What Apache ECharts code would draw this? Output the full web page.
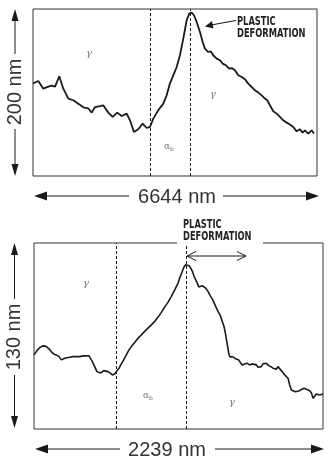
<!DOCTYPE html>
<html><head><meta charset="utf-8">
<script src="https://cdn.jsdelivr.net/npm/echarts@6/dist/echarts.min.js"></script>
<style>html,body{margin:0;padding:0;background:#fff}#c{width:332px;height:465px}</style>
</head><body><div id="c"></div>
<script>
// ---- Top profile (x: nm along scan, y: height nm) ----
const topWidthNm = 6644, topHeightNm = 200;
const topX = [0,124,241,358,437,515,615,709,827,943,1060,1177,1293,1373,1450,1567,1644,1761,1864,1972,2075,2192,2269,2362,2463,2566,2659,2737,2814,2931,3048,3127,3204,3282,3361,3438,3516,3595,3656,3712,3766,3829,3906,3969,4023,4100,4156,4217,4297,4374,4437,4514,4592,4648,4725,4802,4882,4959,5036,5115,5193,5270,5349,5426,5480,5543,5621,5700,5777,5854,5934,6011,6088,6168,6245,6308,6362,6439,6519,6572];
const topY = [110.7,113.8,104.6,107,108.2,107,119.4,104.6,92.7,90.7,86.5,82.3,81.1,75.9,82.6,83.8,84.7,75.9,70.7,75.9,71.9,74.7,66.7,52.7,55.9,62.8,57.5,58.7,68.7,78.7,86.7,96.6,111,120.6,130.5,144.6,164.6,186.5,194.5,195.7,192.5,184.4,172.5,160.5,152.6,148.5,149.3,144.6,140.6,138.6,134.6,132.6,128.6,129.3,126.6,120.6,118.6,115.8,110.6,106.6,102.6,99.9,96.6,92.7,90.7,84.7,77.5,74.7,70.7,66.7,63.9,61.6,58.7,53.5,55.9,52,54.7,50.8,54.7,50.8];
const topBoundaries = [2737, 3688];

// ---- Bottom profile ----
const botWidthNm = 2239, botHeightNm = 130;
const botX = [0,18,39,57,75,96,116,134,152,173,194,212,225,238,250,276,302,328,354,380,405,426,436,452,470,488,504,522,540,555,573,591,607,625,638,659,677,695,715,736,754,780,806,832,857,883,909,935,961,987,1012,1038,1064,1090,1116,1134,1149,1162,1175,1188,1201,1214,1227,1240,1253,1265,1276,1289,1304,1317,1330,1348,1366,1387,1407,1426,1444,1459,1472,1485,1498,1511,1521,1537,1555,1568,1586,1599,1614,1632,1650,1671,1689,1704,1723,1735,1748,1761,1774,1787,1800,1818,1834,1852,1865,1877,1890,1903,1916,1929,1942,1955,1968,1981,1994,2007,2025,2040,2058,2076,2092,2110,2123,2136,2149,2162,2174,2187,2200,2213,2226,2239];
const botY = [51.8,54.1,56.5,57.6,58.1,57.6,56.0,54.1,52.5,51.8,50.6,48.3,48.8,49.5,50.2,50.2,50.6,50.6,50.6,51.1,51.1,51.1,49.5,47.1,43.6,40.1,39.4,39.4,40.8,41.3,40.1,39.0,37.8,38.5,40.1,42.5,45.5,48.3,51.8,55.3,57.6,60.5,63.5,65.8,68.2,70.5,72.8,75.2,78.2,81.5,85.2,88.5,92.7,97.3,102.0,106.7,110.2,113.2,114.8,115.3,114.1,112.5,110.2,106.7,105.5,102.0,99.2,99.7,100.1,99.7,98.5,96.2,93.1,89.9,85.7,82.2,79.1,75.2,71.7,65.8,58.8,51.8,50.2,50.6,49.5,50.6,48.3,46.4,44.8,45.5,46.0,44.8,45.5,46.4,44.8,43.2,42.5,43.6,45.5,46.4,46.0,44.3,43.6,42.5,41.3,41.8,43.6,42.5,40.8,39.4,37.8,37.1,35.5,30.8,27.3,26.1,26.1,26.6,26.8,27.8,28.5,27.8,27.8,26.8,25.4,21.5,22.6,24.5,25.0,23.8,25.0,24.5];
const botBoundaries = [638, 1180];

const topData = topX.map((x, i) => [x, topY[i]]);
const botData = botX.map((x, i) => [x, botY[i]]);

const chart = echarts.init(document.getElementById('c'), null, {renderer: 'canvas'});
const hiddenAxis = {axisLine:{show:false}, axisTick:{show:false}, axisLabel:{show:false}, splitLine:{show:false}};
const ink = '#1a1a1a';
const dimFont = "'Liberation Sans', Arial, sans-serif";
const annFont = "'Liberation Sans Narrow', 'DejaVu Sans Condensed', 'Liberation Sans', sans-serif";

function tri(points){ return {type:'polygon', shape:{points}, style:{fill:ink}, silent:true}; }
function seg(x1,y1,x2,y2,w){ return {type:'line', shape:{x1,y1,x2,y2}, style:{stroke:ink, lineWidth:w||1}, silent:true}; }
function txt(x,y,t,opt){ return {type:'text', x, y, silent:true, style:Object.assign({text:t, fill:ink, align:'center', verticalAlign:'middle'}, opt||{})}; }
function ann(x,y,t){ return {type:'text', x, y, scaleX:0.77, silent:true, style:{text:t, fill:'#222', align:'left', verticalAlign:'middle', font:"bold 12px "+annFont}}; }

const greek = "italic 10px 'DejaVu Serif', serif";
const alphaB = {fill:'#777', rich:{a:{font:"9px 'DejaVu Serif', serif", fill:'#777'}, b:{font:"6px 'DejaVu Serif', serif", fill:'#777', padding:[4,0,0,0]}}};

const graphics = [
  // top vertical dimension arrow
  tri([[15,9],[11.5,21],[18.5,21]]), seg(15,20,15,54), seg(15,129,15,165), tri([[15,176],[11.5,164],[18.5,164]]),
  {type:'text', x:15, y:92, rotation:Math.PI/2, silent:true, style:{text:'200 nm', fill:'#333', font:"20px "+dimFont, align:'center', verticalAlign:'middle'}},
  // top horizontal dimension arrow
  tri([[34,196],[47,191.5],[47,200.5]]), seg(46,196,129,196), seg(223,196,307,196), tri([[319,196],[306,191.5],[306,200.5]]),
  txt(177,197,'6644 nm',{fill:'#333', font:"20px "+dimFont}),
  // top annotation
  ann(237,22,'PLASTIC'),
  ann(237,34,'DEFORMATION'),
  seg(236,20.5,211,25,1.2), tri([[205,26.5],[212,21],[213.5,28.5]]),
  // greek labels top
  txt(89,53,'γ',{fill:'#777', font:greek}),
  txt(213,94,'γ',{fill:'#777', font:greek}),
  txt(169,147,'{a|α}{b|b}',alphaB),

  // bottom vertical dimension arrow
  tri([[14.5,243],[11,255],[18,255]]), seg(14.5,254,14.5,299), seg(14.5,375,14.5,417), tri([[14.5,428],[11,416],[18,416]]),
  {type:'text', x:14.5, y:337, rotation:Math.PI/2, silent:true, style:{text:'130 nm', fill:'#333', font:"20px "+dimFont, align:'center', verticalAlign:'middle'}},
  // bottom horizontal dimension arrow
  tri([[35,449],[48,444.5],[48,453.5]]), seg(47,449,120,449), seg(215,449,312,449), tri([[324,449],[311,444.5],[311,453.5]]),
  txt(167,450,'2239 nm',{fill:'#333', font:"20px "+dimFont}),
  // bottom annotation
  {type:'rect', shape:{x:177, y:240, width:86, height:6}, style:{fill:'#fff'}, silent:true, z:100},
  ann(183,225,'PLASTIC'),
  ann(183,237,'DEFORMATION'),
  seg(187,256,246,256,1),
  {type:'polyline', shape:{points:[[196,251.5],[187,256],[196,260.5]]}, style:{stroke:ink, fill:null, lineWidth:1}, silent:true},
  {type:'polyline', shape:{points:[[237,251.5],[246,256],[237,260.5]]}, style:{stroke:ink, fill:null, lineWidth:1}, silent:true},
  // greek labels bottom
  txt(86,283,'γ',{fill:'#777', font:greek}),
  txt(148,396,'{a|α}{b|b}',alphaB),
  txt(232,402,'γ',{fill:'#777', font:greek})
];
graphics.forEach(g => { if (g.z === undefined) g.z = 101; });

function boundaryLine(vals){
  return {silent:true, symbol:['none','none'], label:{show:false},
    lineStyle:{type:[3,2], color:ink, width:1}, data: vals.map(v => ({xAxis:v}))};
}

chart.setOption({
  animation:false,
  backgroundColor:'#fff',
  grid:[
    {left:33, top:9, width:284, height:167, show:true, borderColor:'#333', borderWidth:1},
    {left:34, top:243, width:289, height:186, show:true, borderColor:'#333', borderWidth:1}
  ],
  xAxis:[
    Object.assign({type:'value', gridIndex:0, min:0, max:topWidthNm}, hiddenAxis),
    Object.assign({type:'value', gridIndex:1, min:0, max:botWidthNm}, hiddenAxis)
  ],
  yAxis:[
    Object.assign({type:'value', gridIndex:0, min:0, max:topHeightNm}, hiddenAxis),
    Object.assign({type:'value', gridIndex:1, min:0, max:botHeightNm}, hiddenAxis)
  ],
  series:[
    {type:'line', xAxisIndex:0, yAxisIndex:0, data:topData, showSymbol:false, lineStyle:{color:ink, width:1.8}, markLine:boundaryLine(topBoundaries), z:5},
    {type:'line', xAxisIndex:1, yAxisIndex:1, data:botData, showSymbol:false, lineStyle:{color:ink, width:1.6}, markLine:boundaryLine(botBoundaries), z:5}
  ],
  graphic:graphics
});
</script></body></html>
